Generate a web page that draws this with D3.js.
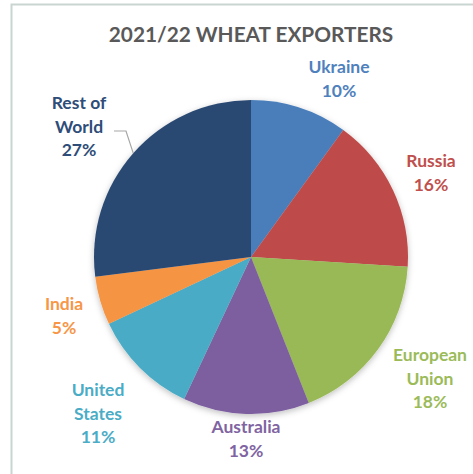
<!DOCTYPE html>
<html><head><meta charset="utf-8">
<script src="https://cdn.jsdelivr.net/npm/d3@7/dist/d3.min.js"></script>
<style>html,body{margin:0;padding:0;background:#fff;}svg{display:block;}</style>
</head><body>
<svg id="chart" width="473" height="474"></svg>
<script>
const title = "2021/22 WHEAT EXPORTERS";
const categories = ["Ukraine", "Russia", "European Union", "Australia", "United States", "India", "Rest of World"];
const values = [10, 16, 18, 13, 11, 5, 27];
const labelLines = [["Ukraine"], ["Russia"], ["European", "Union"], ["Australia"], ["United", "States"], ["India"], ["Rest of", "World"]];
const colors = ["#4a7ebb", "#be4b48", "#98b954", "#7d5fa0", "#4aabc5", "#f59443", "#2c4a72"];
const labelColors = ["#4f81bd", "#c0504d", "#9bbb59", "#8064a2", "#4bacc6", "#f79646", "#2e4d78"];
const labelPos = [[339, 67], [431, 161], [430, 355], [246, 427], [98, 390], [64, 304], [79, 103]];

const svg = d3.select("#chart");
const W = 473, H = 474;
const cx = 251, cy = 257, r = 157;

// frame
svg.append("path").attr("d", `M11.5,${H} L11.5,4.5 L${W},4.5`)
  .attr("fill", "none").attr("stroke", "#c9d5d0").attr("stroke-width", 2);

const defs = svg.append("defs");
const f = defs.append("filter").attr("id", "sh").attr("x", "-20%").attr("y", "-20%").attr("width", "140%").attr("height", "140%");
f.append("feDropShadow").attr("dx", 0).attr("dy", 2).attr("stdDeviation", 3).attr("flood-color", "#000").attr("flood-opacity", 0.25);

svg.append("text").attr("x", cx).attr("y", 42).attr("text-anchor", "middle")
  .attr("font-family", "Lato, sans-serif").attr("font-weight", "bold").attr("font-size", 20.8)
  .attr("fill", "#595959").text(title);

const pie = d3.pie().sort(null).value(d => d)(values);
const arc = d3.arc().innerRadius(0).outerRadius(r);
const g = svg.append("g").attr("transform", `translate(${cx},${cy})`);
g.append("g").attr("filter", "url(#sh)").selectAll("path").data(pie).join("path")
  .attr("d", arc).attr("fill", (d, i) => colors[i]);

// labels
const lh = 23.5;
categories.forEach((c, i) => {
  const lines = labelLines[i].concat([values[i] + "%"]);
  const t = svg.append("text").attr("text-anchor", "middle")
    .attr("font-family", "Lato, sans-serif").attr("font-weight", "bold").attr("font-size", 17.5)
    .attr("fill", labelColors[i]);
  lines.forEach((l, j) => {
    t.append("tspan").attr("x", labelPos[i][0]).attr("y", labelPos[i][1] + j * lh).attr("dy", "0.35em").text(l);
  });
});

// leader line for Rest of World
const a = (pie[6].startAngle + pie[6].endAngle) / 2;
const edge = [cx + r * Math.sin(a), cy - r * Math.cos(a)];
svg.append("path").attr("d", `M114,131 L126,131 L${edge[0]},${edge[1]}`)
  .attr("fill", "none").attr("stroke", "#a6a6a6").attr("stroke-width", 1.2);
</script>
</body></html>
